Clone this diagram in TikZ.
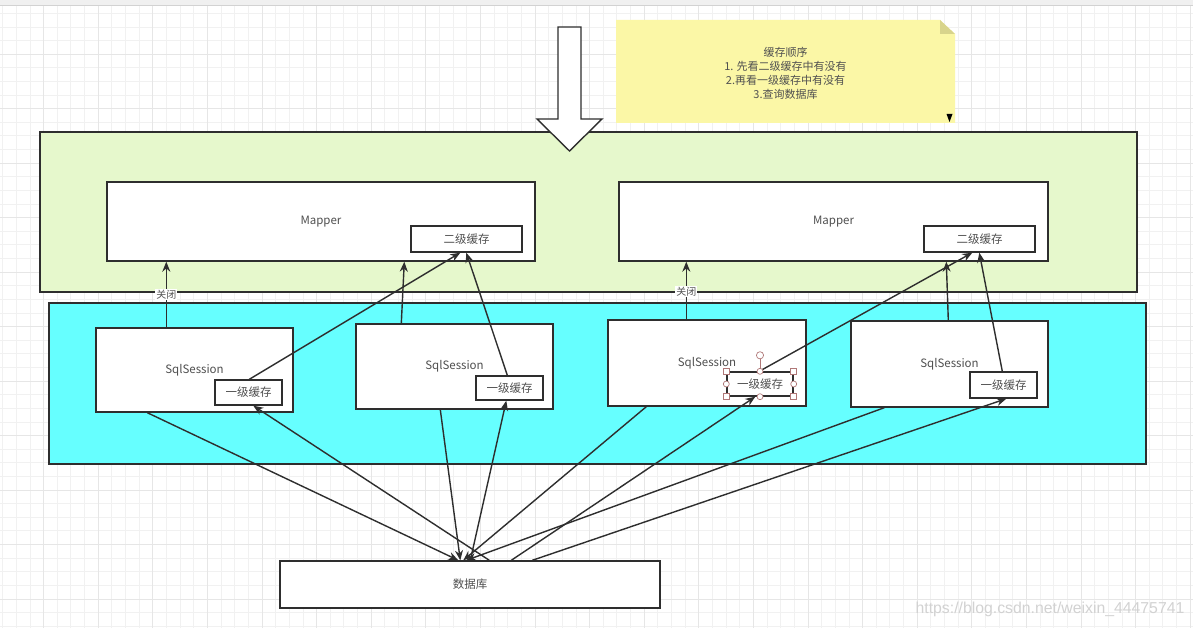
\documentclass[tikz,border=0pt]{standalone}
\usepackage{fontspec}
\setmainfont{Noto Sans CJK SC}
\newfontfamily\wmfont{Liberation Sans}
\usetikzlibrary{arrows.meta}
\definecolor{ink}{HTML}{2E2E2E}
\definecolor{txt}{HTML}{505050}
\definecolor{greenbg}{HTML}{E6F8CC}
\definecolor{cyanbg}{HTML}{66FFFF}
\definecolor{notebg}{HTML}{FBF7A6}
\definecolor{notefold}{HTML}{D8D48C}
\definecolor{gridminor}{HTML}{F1F1F1}
\definecolor{gridmajor}{HTML}{E6E6E6}
\definecolor{handlec}{HTML}{B07878}
\begin{document}
\begin{tikzpicture}[x=1pt,y=-1pt,
  box/.style={draw=ink, line width=1.4pt, fill=white, inner sep=0pt, text=txt, font=\fontsize{11.5}{13}\selectfont},
  container/.style={draw=ink, line width=1.4pt, inner sep=0pt},
  arr/.style={draw=ink, line width=1.4pt, -{Stealth[length=10pt,width=8pt]}},
  lbl/.style={fill=white, inner sep=1pt, text=txt, font=\fontsize{10}{12}\selectfont},
  hsq/.style={draw=handlec, fill=white, line width=0.7pt},
]
\useasboundingbox (0,0) rectangle (1193,628);
\fill[white] (0,0) rectangle (1193,628);
% grid
\foreach \i in {0,...,87} {\draw[gridminor, line width=0.6pt] ({2.5+13.65*\i},0) -- ++(0,628);}
\foreach \i in {0,...,45} {\draw[gridminor, line width=0.6pt] (0,{13.2+13.62*\i}) -- ++(1193,0);}
\foreach \i in {0,...,21} {\draw[gridmajor, line width=0.8pt] ({43.5+54.6*\i},0) -- ++(0,628);}
\foreach \i in {0,...,11} {\draw[gridmajor, line width=0.8pt] (0,{54+54.5*\i}) -- ++(1193,0);}
\fill[gray!12] (0,0) rectangle (1193,5);
\draw[gray!35, line width=0.8pt] (0,5.5) -- (1193,5.5);

% containers
\node[container, fill=greenbg, minimum width=1097pt, minimum height=160pt] (mapperlayer) at (588.5,212) {};
\node[container, fill=cyanbg, minimum width=1097pt, minimum height=161pt] (sessionlayer) at (597.5,383.5) {};

% note
\fill[notebg] (616,20) -- (940,20) -- (955,34) -- (955,123) -- (616,123) -- cycle;
\fill[notefold] (940,20) -- (955,34) -- (940,34) -- cycle;
\fill[black] (946.5,114) -- (952.5,114) -- (949.5,122) -- cycle;
\node[text=txt, align=center, font=\fontsize{11}{14}\selectfont] (notetext) at (785.5,73)
  {缓存顺序\\1. 先看二级缓存中有没有\\2.再看一级缓存中有没有\\3.查询数据库};

% big arrow
\draw[ink, fill=white, line width=1.4pt, line join=miter] (558,27) -- (581,27) -- (581,119) -- (602,119) -- (569.5,151) -- (537,119) -- (558,119) -- cycle;

% mappers
\node[box, minimum width=428pt, minimum height=79pt] (m1) at (321,221.5) {Mapper};
\node[box, minimum width=111pt, minimum height=26pt] (c2a) at (466.5,239) {二级缓存};
\node[box, minimum width=429pt, minimum height=79pt] (m2) at (833.5,221.5) {Mapper};
\node[box, minimum width=111pt, minimum height=26pt] (c2b) at (979.5,239) {二级缓存};

% sessions
\node[box, minimum width=197pt, minimum height=84pt] (ss1) at (194.5,370) {SqlSession};
\node[box, minimum width=67pt, minimum height=25pt] (c1a) at (248.5,392.5) {一级缓存};
\node[box, minimum width=197pt, minimum height=85pt] (ss2) at (454.5,366.5) {SqlSession};
\node[box, minimum width=67pt, minimum height=24pt] (c1b) at (509.5,388) {一级缓存};
\node[box, minimum width=198pt, minimum height=86pt] (ss3) at (707,363) {SqlSession};
\node[box, minimum width=66pt, minimum height=24pt] (c1c) at (760,384) {一级缓存};
\node[box, minimum width=197pt, minimum height=86pt] (ss4) at (949.5,364) {SqlSession};
\node[box, minimum width=67pt, minimum height=26pt] (c1d) at (1003.5,385) {一级缓存};

% database
\node[box, minimum width=380pt, minimum height=47pt] (db) at (470,584.5) {数据库};

% upper connectors
\draw[arr] ([xshift=71pt]ss1.north west) -- node[lbl, pos=0.5] {关闭} ([xshift=60pt]m1.south west);
\draw[arr] ([xshift=35pt]c1a.north west) -- ([xshift=50pt]c2a.south west);
\draw[arr] ([xshift=46pt]ss2.north west) -- ([xshift=298pt]m1.south west);
\draw[arr] ([xshift=32pt]c1b.north west) -- ([xshift=56pt]c2a.south west);
\draw[arr] ([xshift=79pt]ss3.north west) -- node[lbl, pos=0.48] {关闭} ([xshift=68pt]m2.south west);
\draw[arr] ([xshift=33pt]c1c.north west) -- ([xshift=49pt]c2b.south west);
\draw[arr] ([xshift=98pt]ss4.north west) -- ([xshift=328pt]m2.south west);
\draw[arr] ([xshift=33pt]c1d.north west) -- ([xshift=56pt]c2b.south west);

% lower connectors
\draw[arr] ([xshift=52pt]ss1.south west) -- ([xshift=179pt]db.north west);
\draw[arr] ([xshift=210pt]db.north west) -- ([xshift=39pt]c1a.south west);
\draw[arr] ([xshift=85pt]ss2.south west) -- ([xshift=181pt]db.north west);
\draw[arr] ([xshift=191pt]db.north west) -- ([xshift=31pt]c1b.south west);
\draw[arr] ([xshift=39pt]ss3.south west) -- ([xshift=184pt]db.north west);
\draw[arr] ([xshift=232pt]db.north west) -- ([xshift=29pt]c1c.south west);
\draw[arr] ([xshift=34pt]ss4.south west) -- ([xshift=187pt]db.north west);
\draw[arr] ([xshift=253pt]db.north west) -- ([xshift=37pt]c1d.south west);

% selection handles on c1c
\draw[handlec, line width=0.7pt] (c1c.north) -- ++(0,-12);
\draw[hsq] ([yshift=16pt]c1c.north) circle (3.6pt);
\foreach \a in {north west, north east, south west, south east}
  {\draw[hsq] ([xshift=-3pt,yshift=-3pt]c1c.\a) rectangle ++(6pt,6pt);}
\foreach \a in {north, south, west, east}
  {\draw[hsq] (c1c.\a) circle (3pt);}

% watermark
\node[text=gray!35, font=\wmfont\fontsize{15.8}{17}\selectfont] (wm) at (1050,609) {https://blog.csdn.net/weixin\_44475741};
\end{tikzpicture}
\end{document}
